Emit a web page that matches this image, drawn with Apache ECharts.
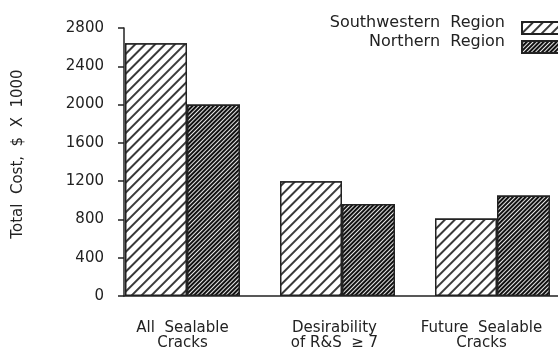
<!DOCTYPE html>
<html>
<head>
<meta charset="utf-8">
<script src="https://cdn.jsdelivr.net/npm/echarts@6/dist/echarts.min.js"></script>
<style>
html,body{margin:0;padding:0;background:#fff;}
#chart{width:558px;height:351px;}
</style>
</head>
<body>
<div id="chart"></div>
<script>
// categories and values (cost, $ x 1000)
var categories = ['All  Sealable\nCracks', 'Desirability\nof R&S  \u2265 7', 'Future  Sealable\nCracks'];
var southwestern = [2640, 1200, 810];
var northern = [2000, 960, 1050];
var yTicks = [0, 400, 800, 1200, 1600, 2000, 2400, 2800];

var font = 'DejaVu Sans';
var ink = '#222';

var chart = echarts.init(document.getElementById('chart'));

// the printed labels sit a little left of the bar groups
var labelKeys = ['a', 'b', 'c'];
function catLabel(v, i) {
    var k = labelKeys[i];
    return v.split('\n').map(function (s) { return '{' + k + '|' + s + '}'; }).join('\n');
}
var labelRich = {
    a: {fontFamily: font, fontSize: 15, color: ink, lineHeight: 15},
    b: {fontFamily: font, fontSize: 15, color: ink, lineHeight: 15, padding: [0, 6, 0, 0]},
    c: {fontFamily: font, fontSize: 15, color: ink, lineHeight: 15, padding: [0, 22, 0, 0]}
};
// legend text sits a bit above its swatch
var legendText = {
    rich: {t: {fontFamily: font, fontSize: 16, color: ink, padding: [0, 12, 10, 0]}}
};

var option = {
    animation: false,
    textStyle: {fontFamily: font, color: ink},
    legend: [
        {
            data: ['Southwestern  Region'],
            top: 10, right: -14,
            align: 'right', icon: 'rect',
            itemWidth: 44, itemHeight: 12,
            formatter: '{t|{name}}',
            textStyle: legendText
        },
        {
            data: ['Northern  Region'],
            top: 29, right: -14,
            align: 'right', icon: 'rect',
            itemWidth: 44, itemHeight: 12,
            formatter: '{t|{name}}',
            textStyle: legendText
        }
    ],
    // grid 0 : axes,  grid 1 : bars
    grid: [
        {left: 124, top: 28, right: 0, bottom: 55, outerBoundsMode: 'none'},
        {left: 105, top: 28, width: 465, bottom: 55, outerBoundsMode: 'none'}
    ],
    xAxis: [
        {
            gridIndex: 0, type: 'value', min: 0, max: 1,
            axisLine: {show: true, lineStyle: {color: ink, width: 1.5}},
            axisTick: {show: false}, axisLabel: {show: false}, splitLine: {show: false}
        },
        {
            gridIndex: 1, type: 'category', data: categories,
            axisLine: {show: false}, axisTick: {show: false},
            axisLabel: {margin: 25, interval: 0, formatter: catLabel, rich: labelRich}
        }
    ],
    yAxis: [
        {
            gridIndex: 0, type: 'value', min: 0, max: 2800, interval: 400,
            name: 'Total  Cost,  $  X  1000',
            nameLocation: 'middle', nameGap: 98,
            nameTextStyle: {fontFamily: font, fontSize: 15, color: ink, padding: [0, 0, 0, 16]},
            axisLine: {show: true, lineStyle: {color: ink, width: 1.5}},
            axisTick: {show: true, inside: false, length: 6, lineStyle: {color: ink, width: 1.5}},
            axisLabel: {margin: 20, fontFamily: font, fontSize: 15, color: ink,
                formatter: function (v) { return yTicks.indexOf(v) >= 0 ? String(v) : ''; }},
            splitLine: {show: false}
        },
        {
            gridIndex: 1, type: 'value', min: 0, max: 2800, show: false
        }
    ],
    series: [
        {
            name: 'Southwestern  Region',
            type: 'bar', xAxisIndex: 1, yAxisIndex: 1,
            data: southwestern,
            barWidth: 62, barGap: 0,
            itemStyle: {
                color: '#fff', borderColor: ink, borderWidth: 1.5,
                decal: {symbol: 'rect', symbolSize: 1, dashArrayX: [1, 0], dashArrayY: [1.1, 4.3],
                    rotation: -Math.PI / 4, color: '#3a3a3a', backgroundColor: '#fff'}
            }
        },
        {
            name: 'Northern  Region',
            type: 'bar', xAxisIndex: 1, yAxisIndex: 1,
            data: northern,
            barWidth: 53, barGap: 0,
            itemStyle: {
                color: '#444', borderColor: ink, borderWidth: 1.5,
                decal: {symbol: 'rect', symbolSize: 1, dashArrayX: [1, 0], dashArrayY: [1.6, 0.9],
                    rotation: -Math.PI / 4, color: '#111', backgroundColor: '#e6e6e6'}
            }
        }
    ]
};
chart.setOption(option);
</script>
</body>
</html>
